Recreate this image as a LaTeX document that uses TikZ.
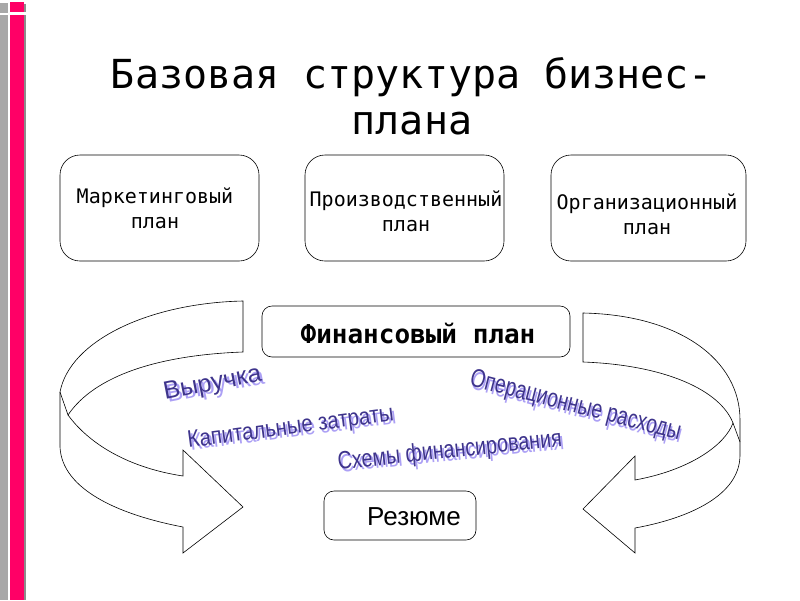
\documentclass[tikz,border=0pt]{standalone}
\usepackage{fontspec}
\setmainfont{Liberation Sans}
\newfontfamily\monofont{DejaVu Sans Mono}
\definecolor{barPink}{RGB}{255,0,102}
\definecolor{barGray}{RGB}{168,168,168}
\definecolor{barShadow}{RGB}{140,140,140}
\definecolor{waShadow}{RGB}{172,160,245}
\definecolor{waText}{RGB}{62,52,140}
\newcommand\waword[1]{\makebox[0pt][l]{\textcolor{waShadow}{\raisebox{-3pt}{\hspace{2.5pt}#1}}}\textcolor{waText}{#1}}
\tikzset{
  planbox/.style={draw=black, line width=0.6pt, rounded corners=20pt, fill=white, inner sep=0pt},
  smallbox/.style={draw=black, line width=0.6pt, rounded corners=10pt, fill=white, inner sep=0pt},
  boxtext/.style={font=\monofont\fontsize{20}{25}\selectfont, align=center, inner sep=0pt},
  ribbon/.style={draw=black, line width=0.6pt, fill=white, line join=miter},
  walabel/.style={inner sep=0pt}
}
\begin{document}
\begin{tikzpicture}[x=1pt,y=-1pt]
\useasboundingbox (0,0) rectangle (800,600);
\fill[white] (0,0) rectangle (800,600);
% side bars
\fill[barGray] (0,3) rectangle (7.5,13);
\fill[barGray] (0,15) rectangle (7.5,600);
\fill[barShadow] (12,4) rectangle (25.5,600);
\fill[barPink] (10,2) rectangle (23.5,12);
\fill[barPink] (10,15) rectangle (23.5,600);
\fill[white] (10,12) rectangle (26,14.5);

% title
\node[font=\monofont\fontsize{40}{48}\selectfont, anchor=base, inner sep=0pt] (title1) at (412,88) {Базовая структура бизнес-};
\node[font=\monofont\fontsize{40}{48}\selectfont, anchor=base, inner sep=0pt] (title2) at (412,134) {плана};

% top boxes
\node[planbox, minimum width=199pt, minimum height=106pt] (mbox) at (159.5,208) {};
\node[planbox, minimum width=199pt, minimum height=106pt] (pbox) at (404.5,208) {};
\node[planbox, minimum width=195pt, minimum height=106pt] (obox) at (648.5,208) {};
\node[boxtext] (mtext) at (155,208) {Маркетинговый\\план};
\node[boxtext] (ptext) at (406,211) {Производственный\\план};
\node[boxtext] (otext) at (647,214) {Организационный\\план};

% left curved arrow
\draw[ribbon] (243,301) .. controls (150,303) and (70,340) .. (60,392)
  -- (60,447) .. controls (62,490) and (120,515) .. (183,527)
  -- (183,553) -- (243,507) -- (183,450) -- (183,476)
  .. controls (130,468) and (90,445) .. (68,415)
  .. controls (95,375) and (160,355) .. (243,352) -- cycle;
\draw[line width=0.6pt] (60,392) -- (68,415);

% right curved arrow
\draw[ribbon] (583,313) .. controls (680,315) and (740,360) .. (740,420)
  -- (740,455) .. controls (740,495) and (690,518) .. (635,528)
  -- (635,553) -- (583,509) -- (635,456) -- (635,480)
  .. controls (690,470) and (725,445) .. (733,423)
  .. controls (720,390) and (665,365) .. (583,362) -- cycle;
\draw[line width=0.6pt] (733,423) -- (740,442);

% financial plan and summary
\node[smallbox, minimum width=308pt, minimum height=51pt] (fbox) at (416,331.5) {};
\node[font=\monofont\bfseries\fontsize{26}{30}\selectfont, inner sep=0pt] (ftext) at (418,333) {Финансовый план};
\node[smallbox, minimum width=152pt, minimum height=49pt] (rbox) at (400,515.5) {};
\node[font=\fontsize{26}{30}\selectfont, inner sep=0pt] (rtext) at (414,517) {Резюме};

% WordArt labels
\node[walabel, rotate=11, font=\fontsize{25}{28}\selectfont] (v) at (213,386) {\waword{Выручка}};
\node[walabel, rotate=7.5, font=\fontsize{24}{28}\selectfont] (k) at (291,430) {\scalebox{0.85}[1]{\waword{Капитальные затраты}}};
\node[walabel, rotate=6, font=\fontsize{25}{28}\selectfont] (s) at (450,453) {\scalebox{0.79}[1]{\waword{Схемы финансирования}}};
\node[walabel, rotate=-14.5, font=\fontsize{26}{28}\selectfont] (o) at (575,408) {\scalebox{0.74}[1]{\waword{Операционные расходы}}};
\end{tikzpicture}
\end{document}
